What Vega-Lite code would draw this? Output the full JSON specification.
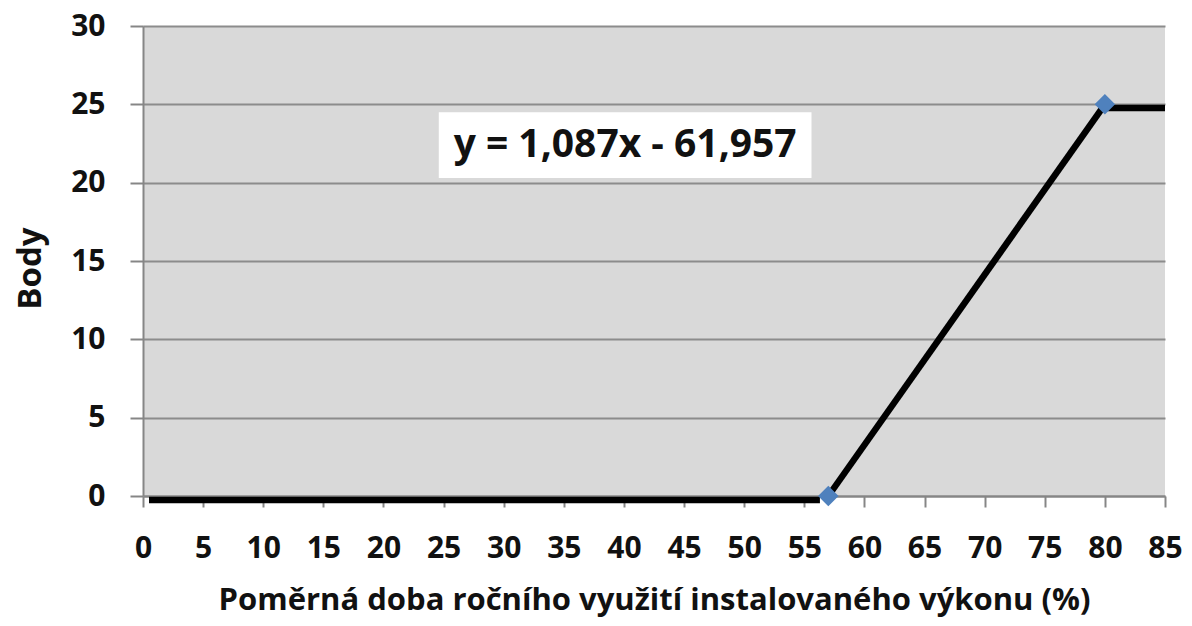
{
  "$schema": "https://vega.github.io/schema/vega-lite/v6.json",
  "width": 1022,
  "height": 470,
  "autosize": {"type": "none"},
  "padding": {"left": 143, "top": 26, "right": 27, "bottom": 130},
  "background": "white",
  "config": {
    "view": {"fill": "#d9d9d9", "stroke": null},
    "font": "Open Sans",
    "axis": {
      "labelFont": "Open Sans",
      "labelFontWeight": "bold",
      "labelFontSize": 30,
      "labelColor": "#111111",
      "titleFont": "Open Sans",
      "titleFontWeight": "bold",
      "titleFontSize": 31,
      "titleColor": "#111111",
      "domainColor": "#868686",
      "domainWidth": 2,
      "tickColor": "#868686",
      "tickWidth": 2,
      "gridColor": "#8c8c8c",
      "gridWidth": 2
    }
  },
  "datasets": {
    "segments": [
      {"seg": "a", "x": 0.5, "y": -0.25},
      {"seg": "a", "x": 56.3, "y": -0.25},
      {"seg": "b", "x": 57, "y": 0},
      {"seg": "b", "x": 80, "y": 25},
      {"seg": "c", "x": 80, "y": 24.76},
      {"seg": "c", "x": 85, "y": 24.76}
    ],
    "points": [
      {"x": 57, "y": 0},
      {"x": 80, "y": 25}
    ],
    "note": [
      {"x": 24.6, "x2": 55.6, "y": 20.3, "y2": 24.5, "tx": 40.1, "ty": 22.4, "label": "y = 1,087x - 61,957"}
    ]
  },
  "layer": [
    {
      "data": {"name": "note"},
      "mark": {"type": "rect", "fill": "white"},
      "encoding": {
        "x": {"field": "x", "type": "quantitative", "scale": {"domain": [0, 85], "nice": false},
          "axis": {"values": [0,5,10,15,20,25,30,35,40,45,50,55,60,65,70,75,80,85], "grid": false, "tickSize": 11, "labelPadding": 50, "labelBaseline": "alphabetic", "labelFlush": false, "labelOverlap": false,
            "title": "Poměrná doba ročního využití instalovaného výkonu (%)", "titleBaseline": "alphabetic", "titleY": 113}},
        "x2": {"field": "x2"},
        "y": {"field": "y", "type": "quantitative", "scale": {"domain": [0, 30], "nice": false},
          "axis": {"values": [0,5,10,15,20,25,30], "grid": true, "tickSize": 13, "labelPadding": 25, "labelFlush": false,
            "title": "Body", "titleFontSize": 33, "titleX": -113, "titleY": 242, "titleBaseline": "middle", "titleAngle": -90}},
        "y2": {"field": "y2"}
      }
    },
    {
      "data": {"name": "note"},
      "mark": {"type": "text", "font": "Open Sans", "fontWeight": "bold", "fontSize": 39, "color": "#111111", "align": "center", "baseline": "middle"},
      "encoding": {
        "x": {"field": "tx", "type": "quantitative"},
        "y": {"field": "ty", "type": "quantitative"},
        "text": {"field": "label"}
      }
    },
    {
      "data": {"name": "segments"},
      "mark": {"type": "line", "color": "black", "strokeWidth": 6.5, "clip": false},
      "encoding": {
        "x": {"field": "x", "type": "quantitative"},
        "y": {"field": "y", "type": "quantitative"},
        "detail": {"field": "seg"}
      }
    },
    {
      "data": {"name": "points"},
      "mark": {"type": "point", "shape": "diamond", "filled": true, "color": "#4F81BD", "size": 420, "opacity": 1},
      "encoding": {
        "x": {"field": "x", "type": "quantitative"},
        "y": {"field": "y", "type": "quantitative"}
      }
    }
  ]
}
